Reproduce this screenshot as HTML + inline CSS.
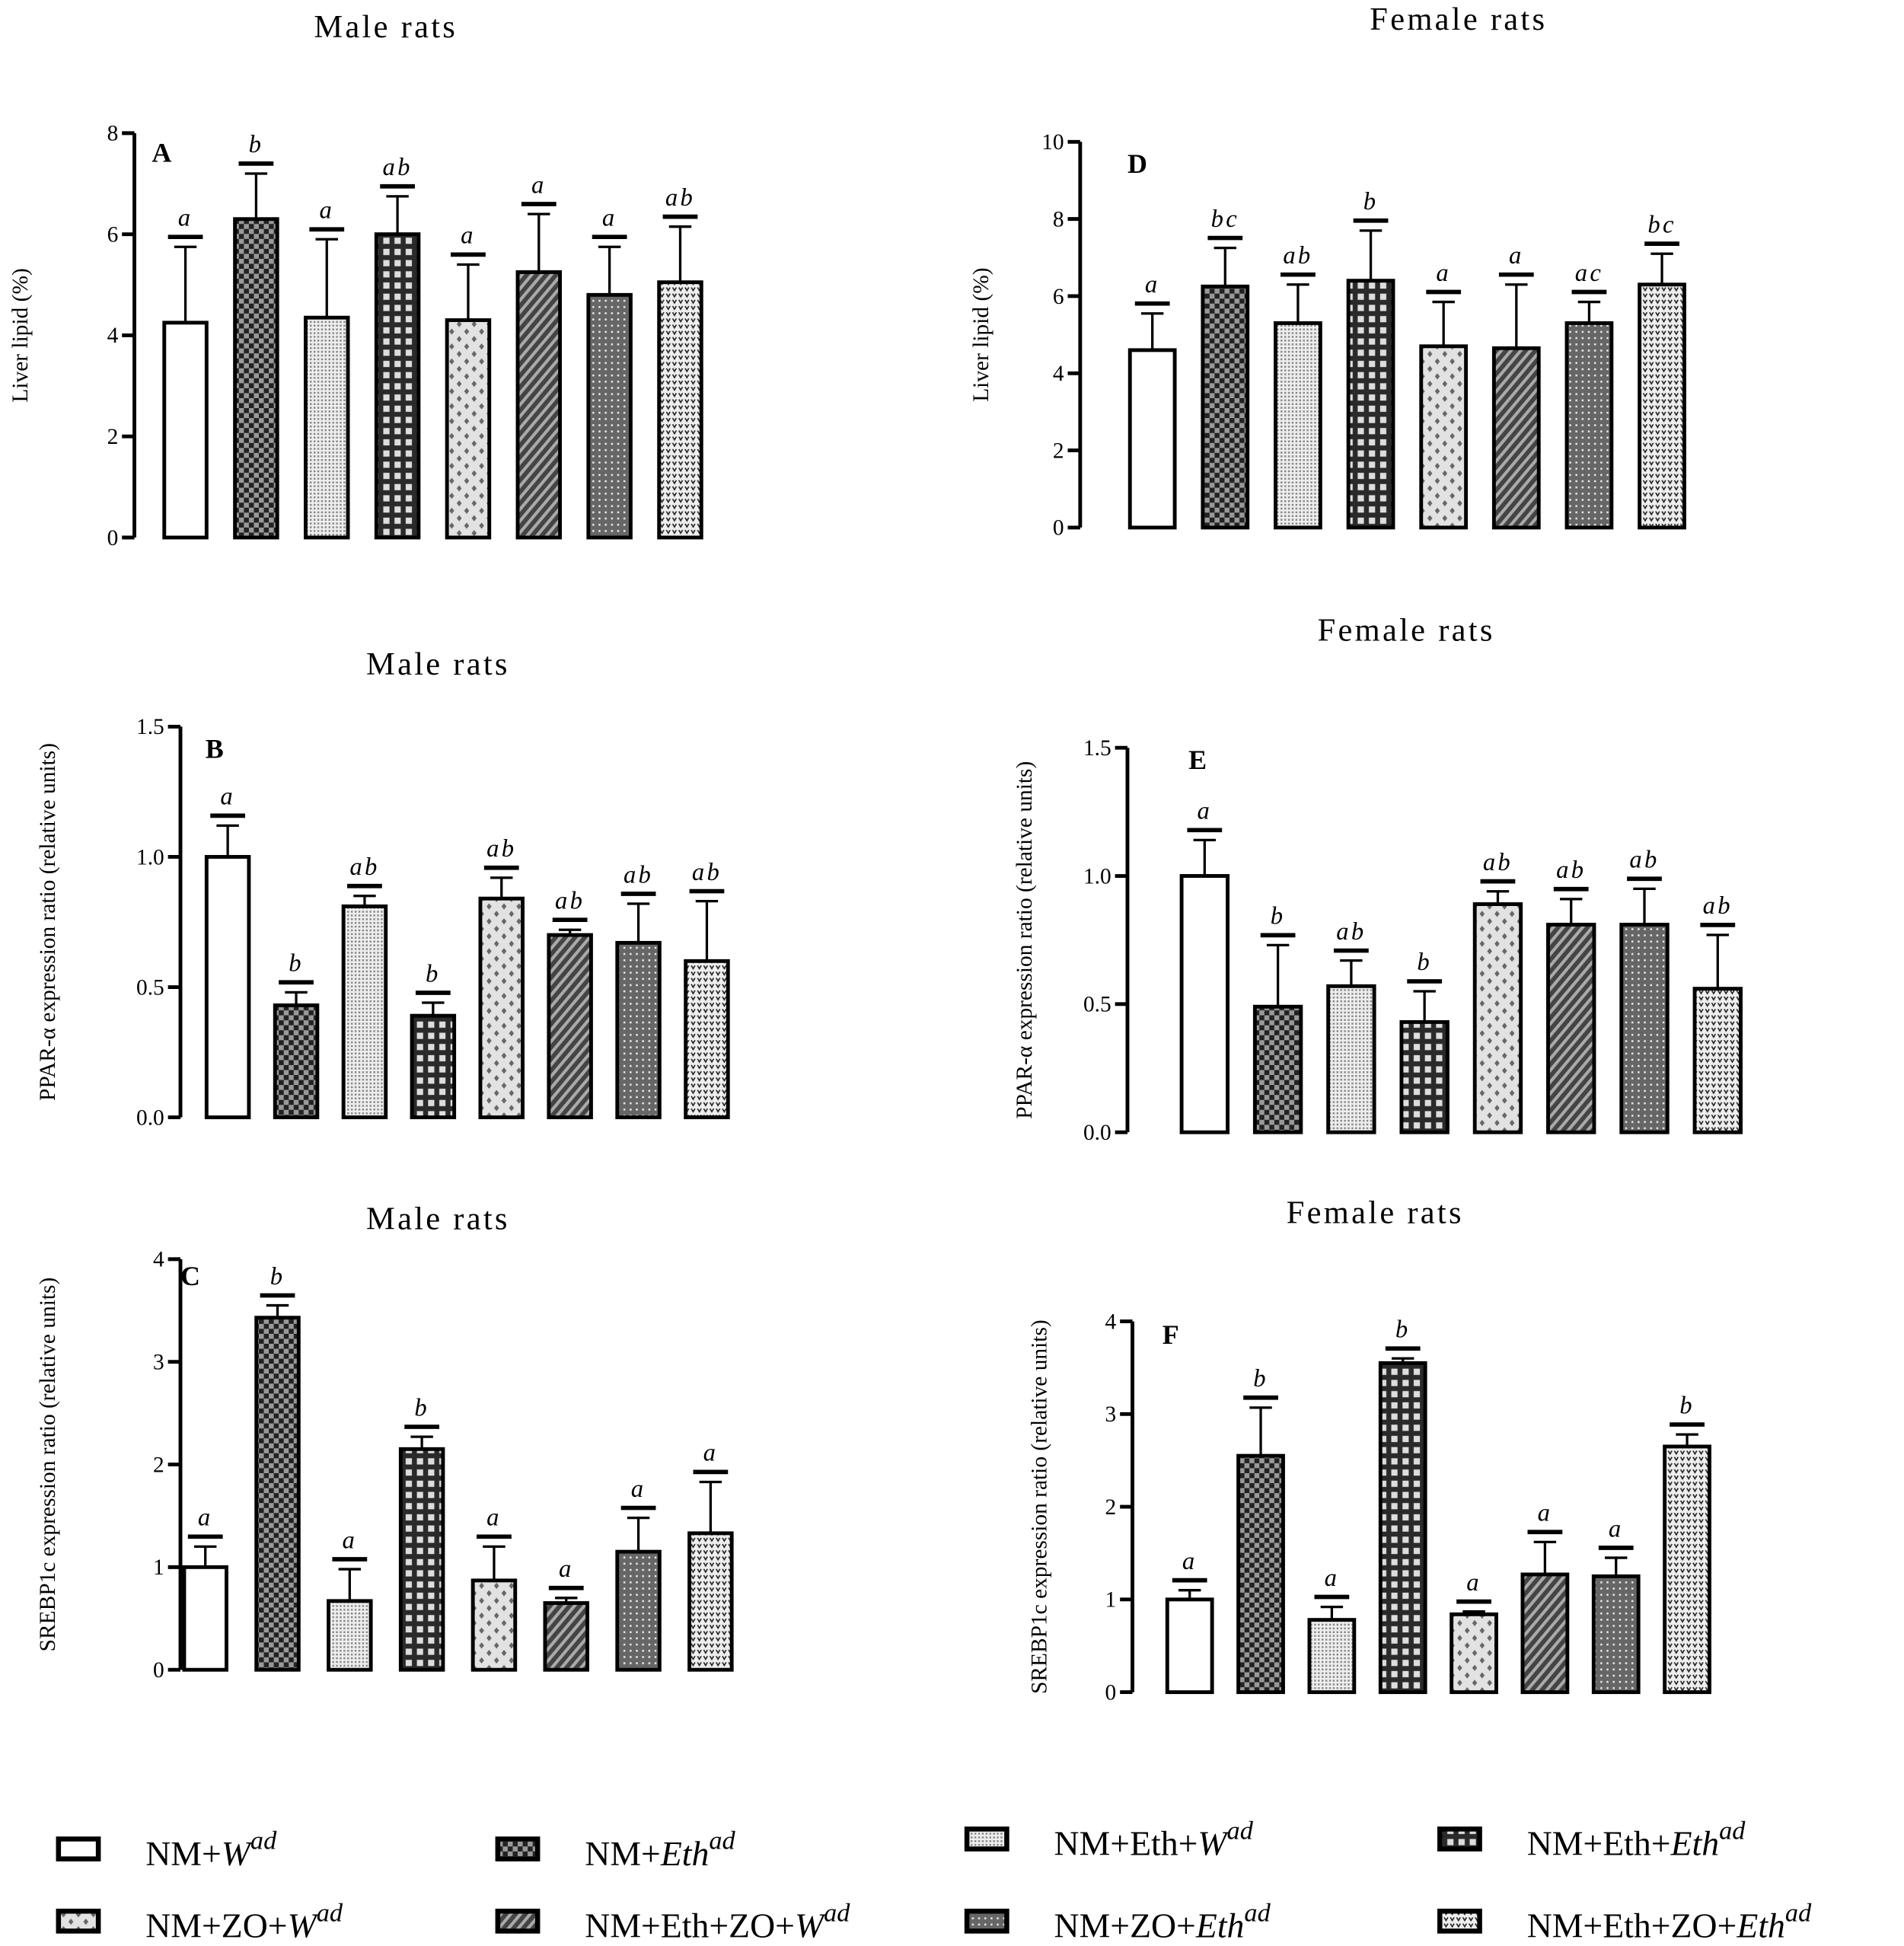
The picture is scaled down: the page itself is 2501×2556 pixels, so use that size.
<!DOCTYPE html>
<html><head><meta charset="utf-8">
<style>
html,body{margin:0;padding:0;background:#fff;}
svg{display:block;}
text{font-family:"Liberation Serif",serif;}
</style></head>
<body>
<svg id="fig" xmlns="http://www.w3.org/2000/svg" width="2501" height="2556" viewBox="0 0 1530 1564" preserveAspectRatio="none">
<defs>
<pattern id="p0" width="6" height="6" patternUnits="userSpaceOnUse"><rect width="6" height="6" fill="#fff"/></pattern>
<pattern id="p1" width="8" height="8" patternUnits="userSpaceOnUse"><rect width="8" height="8" fill="#222"/><rect width="4" height="4" fill="#999"/><rect x="4" y="4" width="4" height="4" fill="#999"/></pattern>
<pattern id="p2" width="3" height="3" patternUnits="userSpaceOnUse"><rect width="3" height="3" fill="#eee"/><rect width="1.5" height="1.5" fill="#888"/></pattern>
<pattern id="p3" width="9" height="9" patternUnits="userSpaceOnUse"><rect width="9" height="9" fill="#2a2a2a"/><rect x="2" y="2" width="5" height="5" fill="#ddd"/></pattern>
<pattern id="p4" width="12" height="12" patternUnits="userSpaceOnUse"><rect width="12" height="12" fill="#e2e2e2"/><path d="M3 0l2 2.5-2 2.5-2-2.5zM9 6l2 2.5-2 2.5-2-2.5z" fill="#666"/></pattern>
<pattern id="p5" width="6" height="6" patternUnits="userSpaceOnUse" patternTransform="rotate(40)"><rect width="6" height="6" fill="#444"/><rect width="2.5" height="6" fill="#aaa"/></pattern>
<pattern id="p6" width="5" height="5" patternUnits="userSpaceOnUse"><rect width="5" height="5" fill="#666"/><rect x="1" y="1" width="1.5" height="1.5" fill="#eee"/></pattern>
<pattern id="p7" width="5" height="5" patternUnits="userSpaceOnUse"><rect width="5" height="5" fill="#eee"/><path d="M0.5 1l1.5 2.5 1.5-2.5" stroke="#222" stroke-width="1" fill="none"/></pattern>
</defs>
<g id="charts"></g>
<g id="legend"></g>
</svg>
<script>
const groupNames=["NM+W","NM+Eth","NM+Eth+W","NM+Eth+Eth","NM+ZO+W","NM+Eth+ZO+W","NM+ZO+Eth","NM+Eth+ZO+Eth"];
const valsA=[4.25,6.3,4.35,6.0,4.3,5.25,4.8,5.05];
const errA=[5.75,7.2,5.9,6.75,5.4,6.4,5.75,6.15];
const sigA=["a","b","a","ab","a","a","a","ab"];
const valsD=[4.6,6.25,5.3,6.4,4.7,4.65,5.3,6.3];
const errD=[5.55,7.25,6.3,7.7,5.85,6.3,5.85,7.1];
const sigD=["a","bc","ab","b","a","a","ac","bc"];
const valsB=[1.0,0.43,0.81,0.39,0.84,0.7,0.67,0.6];
const errB=[1.12,0.48,0.85,0.44,0.92,0.72,0.82,0.83];
const sigB=["a","b","ab","b","ab","ab","ab","ab"];
const valsE=[1.0,0.49,0.57,0.43,0.89,0.81,0.81,0.56];
const errE=[1.14,0.73,0.67,0.55,0.94,0.91,0.95,0.77];
const sigE=["a","b","ab","b","ab","ab","ab","ab"];
const valsC=[1.0,3.43,0.67,2.15,0.87,0.65,1.15,1.33];
const errC=[1.2,3.55,0.98,2.27,1.2,0.7,1.48,1.83];
const sigC=["a","b","a","b","a","a","a","a"];
const valsF=[1.0,2.55,0.78,3.55,0.84,1.27,1.25,2.65];
const errF=[1.1,3.07,0.92,3.6,0.87,1.62,1.45,2.78];
const sigF=["a","b","a","b","a","a","a","b"];
const ticksLiverM=["0","2","4","6","8"];
const ticksLiverF=["0","2","4","6","8","10"];
const ticksPPAR=["0.0","0.5","1.0","1.5"];
const ticksSREBP=["0","1","2","3","4"];

const NS="http://www.w3.org/2000/svg";
function mk(tag,attrs,parent,txt){const e=document.createElementNS(NS,tag);for(const k in attrs)e.setAttribute(k,attrs[k]);if(txt!==undefined)e.textContent=txt;parent.appendChild(e);return e;}

const panels=[
 {id:"a",letter:"A",title:"Male rats",tx:310,ty:30,ax:108,y0:432,yTop:107,max:8,ticks:ticksLiverM,tickStep:2,x0:149,dx:56.8,bw:34,vals:valsA,err:errA,sig:sigA,ylab:"Liver lipid (%)",ylx:22,lx:122,ly:130},
 {id:"d",letter:"D",title:"Female rats",tx:1172,ty:24,ax:868,y0:424,yTop:114,max:10,ticks:ticksLiverF,tickStep:2,x0:926,dx:58.5,bw:36,vals:valsD,err:errD,sig:sigD,ylab:"Liver lipid (%)",ylx:794,lx:906,ly:139},
 {id:"b",letter:"B",title:"Male rats",tx:352,ty:542,ax:145,y0:898,yTop:584,max:1.5,ticks:ticksPPAR,tickStep:0.5,x0:183,dx:55,bw:34,vals:valsB,err:errB,sig:sigB,ylab:"PPAR-\u03b1 expression ratio (relative units)",ylx:44,lx:165,ly:609},
 {id:"e",letter:"E",title:"Female rats",tx:1130,ty:515,ax:906,y0:910,yTop:601,max:1.5,ticks:ticksPPAR,tickStep:0.5,x0:968,dx:58.9,bw:37,vals:valsE,err:errE,sig:sigE,ylab:"PPAR-\u03b1 expression ratio (relative units)",ylx:829,lx:955,ly:618},
 {id:"c",letter:"C",title:"Male rats",tx:352,ty:988,ax:145,y0:1342,yTop:1012,max:4,ticks:ticksSREBP,tickStep:1,x0:165,dx:58,bw:34,vals:valsC,err:errC,sig:sigC,ylab:"SREBP1c expression ratio (relative units)",ylx:44,lx:145,ly:1033},
 {id:"f",letter:"F",title:"Female rats",tx:1105,ty:983,ax:910,y0:1360,yTop:1062,max:4,ticks:ticksSREBP,tickStep:1,x0:956,dx:57.1,bw:36,vals:valsF,err:errF,sig:sigF,ylab:"SREBP1c expression ratio (relative units)",ylx:841,lx:934,ly:1080}
];
const charts=document.getElementById("charts");
panels.forEach(p=>{
  const g=mk("g",{},charts);
  
  
  const Y=v=>p.y0-(v/p.max)*(p.y0-p.yTop);
  const X=i=>p.x0+i*p.dx;
  const t=mk("text",{x:p.tx,y:p.ty,"text-anchor":"middle","font-size":26,"letter-spacing":"2"},g,p.title);
  
  
  const ax=mk("line",{x1:p.ax,x2:p.ax,y1:p.yTop,y2:p.y0,stroke:"#000","stroke-width":3},g);
  
  
  p.ticks.forEach((lab,i)=>{
    const yy=Y(i*p.tickStep);
    const tk=mk("line",{x1:p.ax-10,x2:p.ax,y1:yy,y2:yy,stroke:"#000","stroke-width":3},g);
    
    
    const tl=mk("text",{x:p.ax-13,y:yy+6,"text-anchor":"end","font-size":18},g,lab);
    
    
  });
  const mid=(p.y0+p.yTop)/2;
  const yl=mk("text",{x:p.ylx,y:mid,"text-anchor":"middle","font-size":18,transform:`rotate(-90 ${p.ylx} ${mid})`},g,p.ylab);
  
  
  const L=mk("text",{x:p.lx,y:p.ly,"font-size":22,"font-weight":"bold"},g,p.letter);
  
  
  p.vals.forEach((v,i)=>{
    const cx=X(i),top=Y(v),et=Y(p.err[i]);
    const r=mk("rect",{x:cx-p.bw/2,y:top,width:p.bw,height:p.y0-top,fill:`url(#p${i})`,stroke:"#000","stroke-width":3},g);
    
    
    const el=mk("path",{d:`M${cx} ${top}V${et}M${cx-9} ${et}H${cx+9}`,stroke:"#000","stroke-width":2,fill:"none"},g);
    
    
    const cap=mk("line",{x1:cx-14,x2:cx+14,y1:et-8,y2:et-8,stroke:"#000","stroke-width":3.5},g);
    
    
    const s=mk("text",{x:cx,y:et-17,"text-anchor":"middle","font-size":20,"font-style":"italic","letter-spacing":"2"},g,p.sig[i]);
    
    
  });
});
const legend=document.getElementById("legend");
const legItems=[["NM+","W"],["NM+","Eth"],["NM+Eth+","W"],["NM+Eth+","Eth"],["NM+ZO+","W"],["NM+Eth+ZO+","W"],["NM+ZO+","Eth"],["NM+Eth+ZO+","Eth"]];
const legX=[47,400,777,1157];
const legY=[1488,1546];
legItems.forEach((it,i)=>{
  const col=i%4,row=Math.floor(i/4);
  const lx=legX[col],ly=legY[row]-(row===0&&col>=2?8:0);
  const g=mk("g",{},legend);
  
  
  const sw=mk("rect",{x:lx,y:ly-10,width:32,height:16,fill:`url(#p${i})`,stroke:"#000","stroke-width":4},g);
  
  
  const t=mk("text",{x:lx+70,y:ly+11,"font-size":28},g);
  
  
  mk("tspan",{},t,it[0]);
  mk("tspan",{"font-style":"italic"},t,it[1]);
  mk("tspan",{"font-style":"italic","font-size":21,dy:-13},t,"ad");
});
</script>
</body></html>
